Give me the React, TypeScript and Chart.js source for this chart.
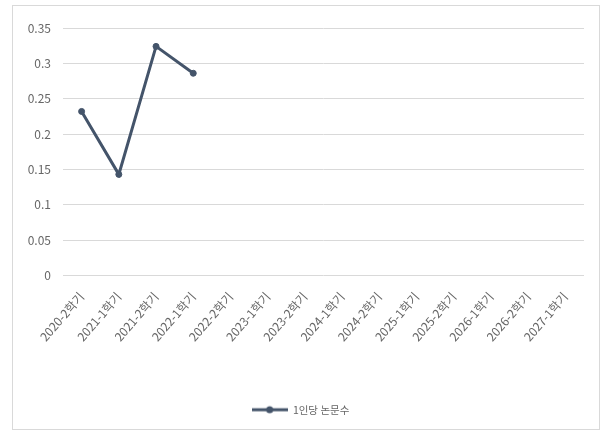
import React, { useEffect, useRef } from "react";
import { Chart, registerables } from "chart.js";

Chart.register(...registerables);

const categories = [
  "2020-2학기", "2021-1학기", "2021-2학기", "2022-1학기", "2022-2학기",
  "2023-1학기", "2023-2학기", "2024-1학기", "2024-2학기", "2025-1학기",
  "2025-2학기", "2026-1학기", "2026-2학기", "2027-1학기",
];
const seriesLabel = "1인당 논문수";
const seriesValues: (number | null)[] = [
  0.232, 0.143, 0.324, 0.286, null, null, null, null, null, null, null, null, null, null,
];
const yMin = 0;
const yMax = 0.35;
const yStep = 0.05;

const LINE_COLOR = "#44546A";
const TEXT_COLOR = "#666666";
const GRID_COLOR = "#D9D9D9";
const FONT = "'Noto Sans CJK KR', 'Noto Sans', sans-serif";

function makeLegendIcon(): HTMLCanvasElement {
  const c = document.createElement("canvas");
  c.width = 36;
  c.height = 10;
  const ctx = c.getContext("2d")!;
  ctx.strokeStyle = LINE_COLOR;
  ctx.lineWidth = 3;
  ctx.beginPath();
  ctx.moveTo(0, 5);
  ctx.lineTo(36, 5);
  ctx.stroke();
  ctx.fillStyle = LINE_COLOR;
  ctx.beginPath();
  ctx.arc(18, 5, 3.5, 0, Math.PI * 2);
  ctx.fill();
  return c;
}

export default function App() {
  const ref = useRef<HTMLCanvasElement>(null);
  useEffect(() => {
    if (!ref.current) return;
    const icon = makeLegendIcon();
    const chart = new Chart(ref.current, {
      type: "line",
      data: {
        labels: categories,
        datasets: [
          {
            label: seriesLabel,
            data: seriesValues,
            borderColor: LINE_COLOR,
            backgroundColor: LINE_COLOR,
            borderWidth: 3,
            pointRadius: 3,
            pointBorderWidth: 1,
            pointBackgroundColor: LINE_COLOR,
            pointBorderColor: LINE_COLOR,
            spanGaps: false,
            tension: 0,
          },
        ],
      },
      options: {
        animation: false,
        responsive: false,
        maintainAspectRatio: false,
        layout: { padding: { left: 4, right: 15, top: 22, bottom: 4 } },
        plugins: {
          tooltip: { enabled: false },
          legend: {
            position: "bottom",
            labels: {
              color: TEXT_COLOR,
              font: { family: FONT, size: 10.5 },
              usePointStyle: true,
              pointStyleWidth: 36,
              padding: 10,
              generateLabels: (ch: any) =>
                ch.data.datasets.map((ds: any, i: number) => ({
                  text: ds.label,
                  pointStyle: icon,
                  fillStyle: LINE_COLOR,
                  strokeStyle: LINE_COLOR,
                  lineWidth: 0,
                  hidden: false,
                  datasetIndex: i,
                  fontColor: TEXT_COLOR,
                })),
            },
          },
        },
        scales: {
          x: {
            offset: true,
            grid: { display: false },
            border: { display: false },
            ticks: {
              color: TEXT_COLOR,
              font: { family: FONT, size: 12 },
              minRotation: 49,
              maxRotation: 49,
              autoSkip: false,
              padding: 6,
            },
            afterFit: (s: any) => {
              s.height = 119;
            },
          },
          y: {
            min: yMin,
            max: yMax,
            grid: { color: GRID_COLOR, lineWidth: 1, drawTicks: false },
            border: { display: false },
            ticks: {
              stepSize: yStep,
              color: TEXT_COLOR,
              font: { family: FONT, size: 12 },
              padding: 12,
              callback: (v: any) => String(Number(Number(v).toFixed(2))),
            },
            afterFit: (s: any) => {
              s.width = 46;
            },
          },
        },
      },
    });
    return () => chart.destroy();
  }, []);
  return (
    <div
      style={{
        position: "absolute",
        left: 12,
        top: 5,
        width: 588,
        height: 425,
        border: "1px solid #D9D9D9",
        boxSizing: "border-box",
        background: "#fff",
      }}
    >
      <canvas ref={ref} width={586} height={423} style={{ display: "block" }} />
    </div>
  );
}
